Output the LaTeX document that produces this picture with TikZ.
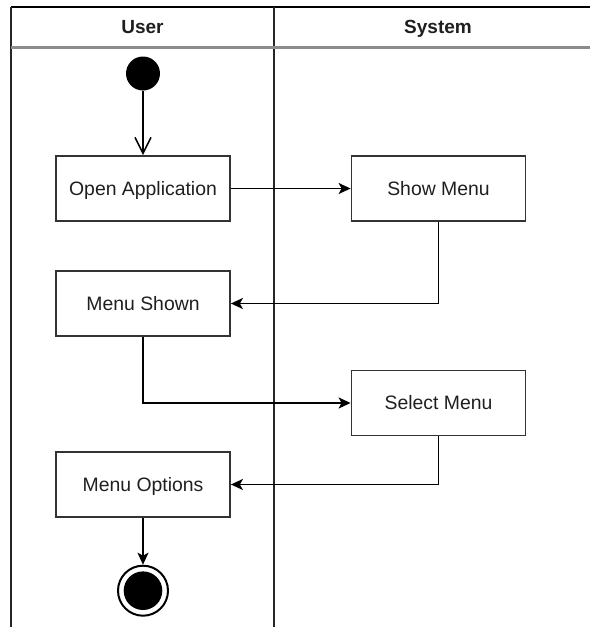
\documentclass[tikz,border=0pt]{standalone}
\usepackage{fontspec}
\setmainfont{Liberation Sans}
\usetikzlibrary{arrows.meta}
\begin{document}
\begin{tikzpicture}[x=1pt,y=-1pt,
  act/.style={draw=black!80, line width=1.8pt, minimum width=174pt, minimum height=65pt, inner sep=0pt, text height=13.8pt, text depth=0pt, font=\fontsize{19.4}{23}\selectfont, text=black!88},
  flow/.style={draw=black, line width=1.7pt, -{Stealth[length=12pt,width=11pt,inset=3pt]}},
  openflow/.style={draw=black, line width=1.6pt, -{Straight Barb[length=16pt,width=16pt]}},
  hdr/.style={font=\bfseries\fontsize{19}{23}\selectfont, text=black!88, text height=13.6pt, text depth=0pt, inner sep=0pt},
  lane/.style={line width=1.8pt, black!85}
]
\useasboundingbox (0,0) rectangle (590,627);
% swimlane frame
\draw[line width=2.2pt] (11,7) -- (590,7);
\draw[lane] (11,7) -- (11,627);
\draw[lane] (274,7) -- (274,627);
\draw[line width=3pt, black!45] (11,47) -- (590,47);
\node[hdr] (userh) at (142.5,27) {User};
\node[hdr] (systemh) at (438,27) {System};
% nodes
\node[circle, fill=black, minimum size=34pt, inner sep=0pt] (start) at (143,73.5) {};
\node[act] (open) at (143,188.5) {Open Application};
\node[act] (show) at (438.5,188.5) {Show Menu};
\node[act] (shown) at (143,303.5) {Menu Shown};
\node[act] (select) at (438.5,403) {Select Menu};
\node[act] (options) at (143,484.5) {Menu Options};
\node[circle, draw=black, line width=2pt, fill=white, minimum size=50pt, inner sep=0pt] (end) at (143,590.7) {};
\node[circle, fill=black, minimum size=38.6pt, inner sep=0pt] (endcore) at (end.center) {};
% connectors
\draw[openflow] (start) -- (open);
\draw[flow] (open) -- (show);
\draw[flow] (show.south) |- (shown.east);
\draw[flow] (shown.south) |- (select.west);
\draw[flow] (select.south) |- (options.east);
\draw[flow] (options) -- (end);
\end{tikzpicture}
\end{document}
